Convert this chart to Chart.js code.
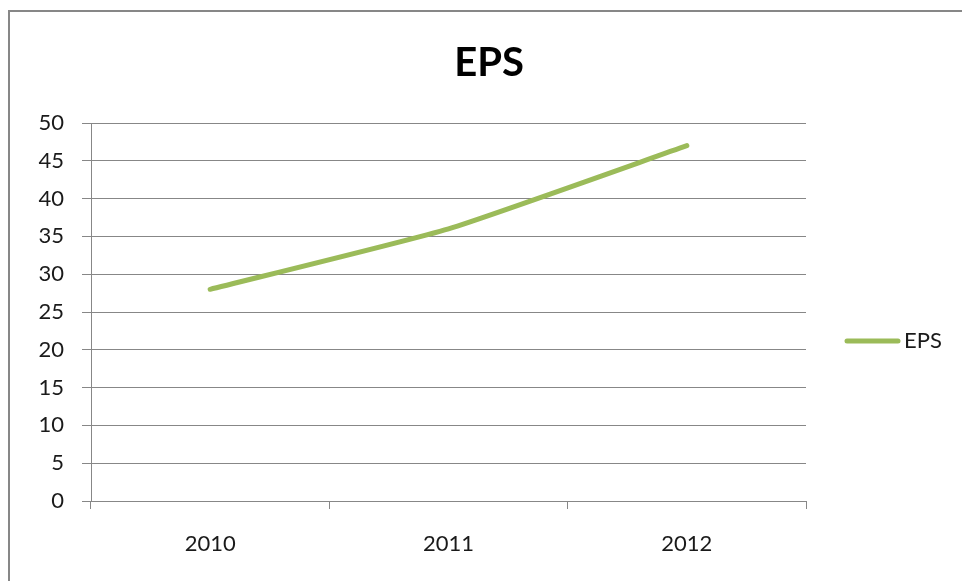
<!DOCTYPE html>
<html>
<head>
<meta charset="utf-8">
<script src="https://cdn.jsdelivr.net/npm/chart.js@4/dist/chart.umd.min.js"></script>
<style>
  html, body { margin: 0; padding: 0; background: #fff; overflow: hidden; }
  #frame { position: absolute; left: 8px; top: 10px; width: 1000px; height: 1000px;
           border: 2px solid #878787; box-sizing: border-box; }
  #wrap { position: absolute; left: 0; top: 0; width: 962px; height: 581px; }
</style>
</head>
<body>
<div id="frame"></div>
<div id="wrap"><canvas id="myChart"></canvas></div>
<script>
var years = ['2010', '2011', '2012'];
var eps = [28, 36, 47];
var yTicks = [0, 5, 10, 15, 20, 25, 30, 35, 40, 45, 50];

var lineColor = '#9BBB59';
var gridColor = '#878787';
var textColor = '#1a1a1a';

// legend drawn in the space kept by the hidden right axis
var sideLegend = {
  id: 'sideLegend',
  afterDraw: function (chart) {
    var c = chart.ctx;
    var ds = chart.data.datasets[0];
    c.save();
    c.strokeStyle = ds.borderColor;
    c.lineWidth = 5;
    c.lineCap = 'round';
    c.beginPath();
    c.moveTo(847, 341);
    c.lineTo(898, 341);
    c.stroke();
    c.fillStyle = textColor;
    c.font = '22px Lato';
    c.textBaseline = 'middle';
    c.fillText(ds.label, 904, 341);
    c.restore();
  }
};

var ctx = document.getElementById('myChart');
var myChart = new Chart(ctx, {
  type: 'line',
  data: {
    labels: years,
    datasets: [
      {
        label: 'EPS',
        data: eps,
        borderColor: lineColor,
        backgroundColor: lineColor,
        borderWidth: 5,
        borderCapStyle: 'round',
        borderJoinStyle: 'round',
        tension: 0.15,
        pointRadius: 0,
        fill: false
      }
    ]
  },
  options: {
    responsive: true,
    maintainAspectRatio: false,
    animation: false,
    devicePixelRatio: 1,
    layout: { padding: { left: 16, right: 0, top: 0, bottom: 0 } },
    plugins: {
      legend: { display: false },
      tooltip: { enabled: false },
      title: {
        display: true,
        text: 'EPS',
        color: '#000',
        font: { family: 'Lato', size: 40, weight: 'bold', lineHeight: 1.2 },
        padding: { top: 39, bottom: 36 }
      }
    },
    scales: {
      x: {
        offset: true,
        grid: { offset: true, drawOnChartArea: false, drawTicks: true, tickLength: 8, color: gridColor },
        border: { display: true, color: gridColor, width: 1 },
        ticks: { color: textColor, font: { family: 'Lato', size: 22 }, padding: 22, maxRotation: 0 },
        afterFit: function (s) { s.height = 80; }
      },
      y: {
        min: 0,
        max: 50,
        afterBuildTicks: function (s) { s.ticks = yTicks.map(function (v) { return { value: v }; }); },
        grid: { color: gridColor, drawTicks: true, tickLength: 9 },
        border: { display: true, color: gridColor, width: 1 },
        ticks: { color: textColor, font: { family: 'Lato', size: 22 }, padding: 18 },
        afterFit: function (s) { s.width = 75; }
      },
      side: {
        position: 'right',
        grid: { display: false },
        border: { display: false },
        ticks: { display: false },
        afterFit: function (s) { s.width = 156; }
      }
    }
  },
  plugins: [sideLegend]
});
</script>
</body>
</html>
